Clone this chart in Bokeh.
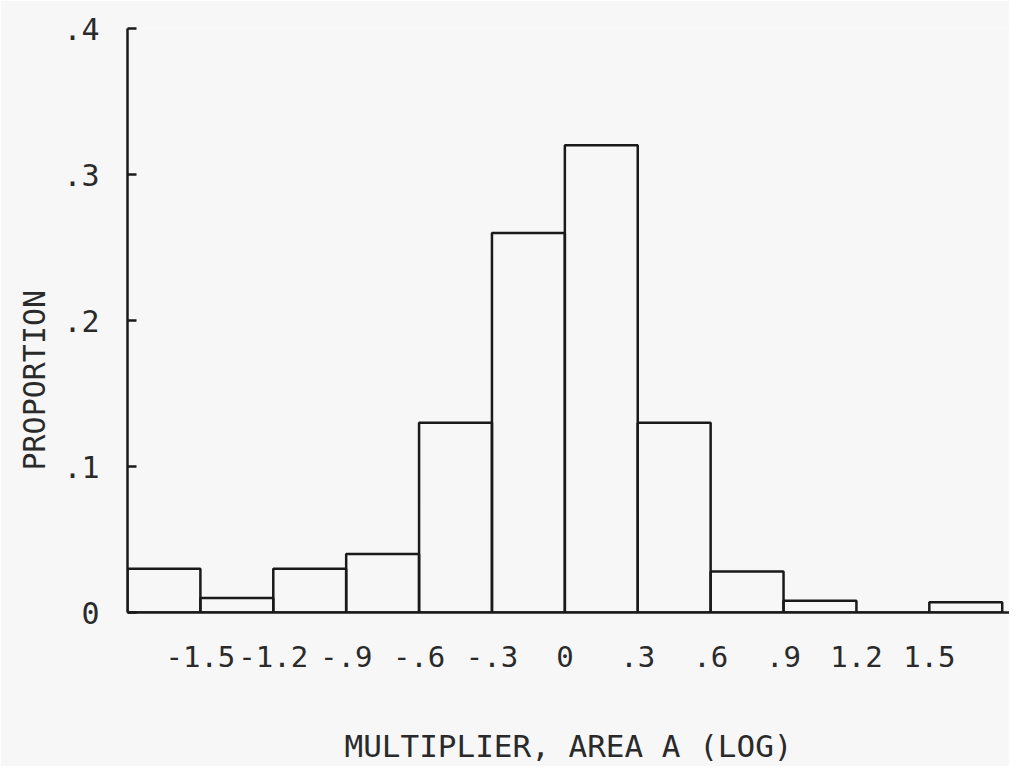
from bokeh.plotting import figure
from bokeh.models import FixedTicker, Title, Range1d
from bokeh.embed import file_html
from bokeh.resources import INLINE

# Histogram bins (log multiplier), width 0.3, from -1.8 to 1.8
bin_left = [-1.8, -1.5, -1.2, -0.9, -0.6, -0.3, 0.0, 0.3, 0.6, 0.9, 1.2, 1.5]
bin_right = [-1.5, -1.2, -0.9, -0.6, -0.3, 0.0, 0.3, 0.6, 0.9, 1.2, 1.5, 1.8]
proportion = [0.03, 0.01, 0.03, 0.04, 0.13, 0.26, 0.32, 0.13, 0.028, 0.008, 0.0, 0.007]

x_ticks = [-1.5, -1.2, -0.9, -0.6, -0.3, 0.0, 0.3, 0.6, 0.9, 1.2, 1.5]
x_labels = ["-1.5", "-1.2", "-.9", "-.6", "-.3", "0", ".3", ".6", ".9", "1.2", "1.5"]
y_ticks = [0.0, 0.1, 0.2, 0.3, 0.4]
y_labels = ["0", ".1", ".2", ".3", ".4"]

FONT = "DejaVu Sans Mono"
INK = "#1a1a1a"
TXT = "#2a2a2a"
BG = "#f7f7f7"

p = figure(
    frame_width=882, frame_height=584,
    x_range=Range1d(-1.8, 1.83), y_range=Range1d(0, 0.4),
    output_backend="svg", toolbar_location=None,
    min_border_left=127, min_border_top=28, min_border_right=0, min_border_bottom=100,
)
p.background_fill_color = BG
p.border_fill_color = BG
p.outline_line_color = None
p.xgrid.visible = False
p.ygrid.visible = False

p.quad(left=bin_left, right=bin_right, top=proportion, bottom=0,
       fill_color=None, line_color=INK, line_width=2.5)

# x axis
xa = p.xaxis[0]
xa.ticker = FixedTicker(ticks=x_ticks)
xa.major_label_overrides = {t: s for t, s in zip(x_ticks, x_labels)}
xa.major_tick_line_color = None
xa.minor_tick_line_color = None
xa.axis_line_color = INK
xa.axis_line_width = 2.5
xa.major_label_text_font = FONT
xa.major_label_text_font_size = "29px"
xa.major_label_text_color = TXT
xa.major_label_standoff = 27
xa.axis_label = "MULTIPLIER, AREA A (LOG)"
xa.axis_label_text_font = FONT
xa.axis_label_text_font_size = "31px"
xa.axis_label_text_font_style = "normal"
xa.axis_label_text_color = TXT
xa.axis_label_standoff = 58

# y axis
ya = p.yaxis[0]
ya.ticker = FixedTicker(ticks=y_ticks)
ya.major_label_overrides = {t: s for t, s in zip(y_ticks, y_labels)}
ya.major_tick_in = 9
ya.major_tick_out = 0
ya.major_tick_line_color = INK
ya.major_tick_line_width = 2.5
ya.minor_tick_line_color = None
ya.axis_line_color = INK
ya.axis_line_width = 2.5
ya.major_label_text_font = FONT
ya.major_label_text_font_size = "30px"
ya.major_label_text_color = TXT
ya.major_label_standoff = 28

ytitle = Title(text="PROPORTION", align="left", offset=142,
               text_font=FONT, text_font_size="30px", text_font_style="normal",
               text_color=TXT, standoff=17)
p.add_layout(ytitle, "left")

open("out.html", "w").write(file_html(p, INLINE))
